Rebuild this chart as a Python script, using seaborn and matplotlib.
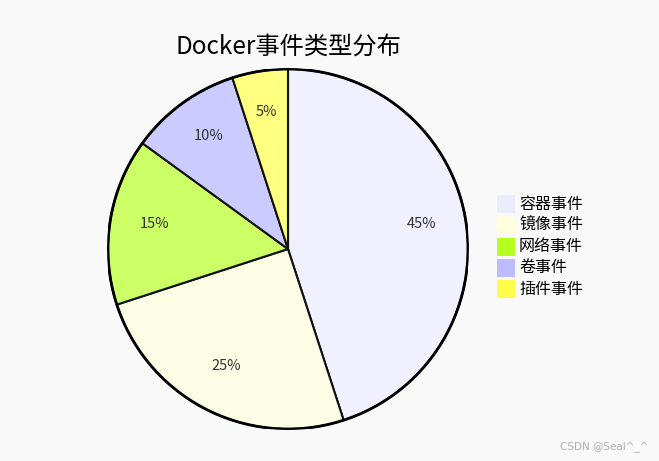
import matplotlib
matplotlib.use("Agg")
import matplotlib.pyplot as plt
from matplotlib.patches import Rectangle, Circle
import seaborn as sns

categories = ["容器事件", "镜像事件", "网络事件", "卷事件", "插件事件"]
values = [45, 25, 15, 10, 5]
slice_colors = ["#f0f0ff", "#fdfde6", "#ccff66", "#cbcbff", "#ffff80"]
legend_colors = ["#ececff", "#ffffde", "#b5ff20", "#bcbcff", "#ffff4a"]
title = "Docker事件类型分布"

sns.set_theme(style="white")
plt.rcParams["font.family"] = ["Noto Sans CJK SC", "DejaVu Sans"]

bg = "#f9f9f9"
fig = plt.figure(figsize=(6.59, 4.61), dpi=100, facecolor=bg)
W, H = 659, 461
cx, cy, r = 288, 249, 180
ax = fig.add_axes([(cx - r) / W, (H - cy - r) / H, 2 * r / W, 2 * r / H])
ax.set_facecolor(bg)
ax.set_xlim(-1, 1)
ax.set_ylim(-1, 1)
ax.axis("off")

wedges, texts, autotexts = ax.pie(
    values, colors=slice_colors, startangle=90, counterclock=False,
    autopct=lambda p: f"{p:.0f}%", pctdistance=0.75, radius=1,
    wedgeprops=dict(edgecolor="#111111", linewidth=1.5),
    textprops=dict(fontsize=10.5, color="#333333"),
    frame=False,
)
for t in autotexts:
    x, y = t.get_position()
    t.set_position((x, y + 3.5 / r))
ax.set_xlim(-1, 1)
ax.set_ylim(-1, 1)
ax.add_patch(Circle((0, 0), 1, fill=False, edgecolor="#000000", linewidth=2))

fig.text(cx / W, 1 - 47 / H, title, ha="center", va="center", fontsize=17.5, color="#000000")

y0 = 204
for i, (lab, col) in enumerate(zip(categories, legend_colors)):
    yy = y0 + i * 21.3
    fig.patches.append(Rectangle(((497) / W, 1 - (yy + 9) / H), 18 / W, 18 / H,
                                 transform=fig.transFigure, facecolor=col,
                                 edgecolor=col, linewidth=0))
    fig.text(519 / W, 1 - yy / H, lab, ha="left", va="center", fontsize=11.5, color="#000000")

fig.text(648 / W, 1 - 447 / H, "CSDN @Seal^_^", ha="right", va="center",
         fontsize=7.5, color="#b0b0b0", family=["DejaVu Sans"])

fig.savefig("out.png", dpi=100, facecolor=bg)
